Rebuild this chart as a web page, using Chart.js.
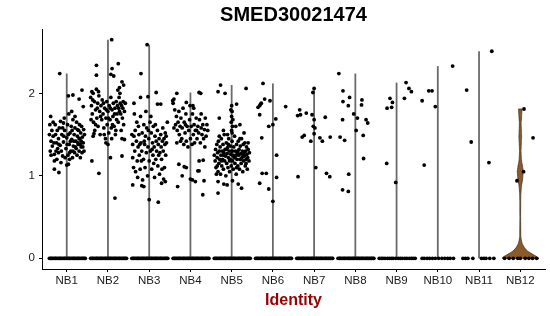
<!DOCTYPE html>
<html>
<head>
<meta charset="utf-8">
<script src="https://cdn.jsdelivr.net/npm/chart.js@4.4.1/dist/chart.umd.min.js"></script>
<style>
  html, body { margin: 0; padding: 0; background: #fff; }
</style>
</head>
<body>
<canvas id="vlnChart" width="550" height="316"></canvas>
<script>
// ---- data ----
const cats = ['NB1', 'NB2', 'NB3', 'NB4', 'NB5', 'NB6', 'NB7', 'NB8', 'NB9', 'NB10', 'NB11', 'NB12'];
const yTicks = [0, 1, 2];
const chartTitle = 'SMED30021474';

// top of each violin (max expression per cluster)
const violinTop = [2.24, 2.65, 2.59, 2.01, 2.10, 2.12, 2.06, 2.24, 2.13, 2.33, 2.51, 1.81];

// NB12 violin outline: expression level -> half width (in cluster units)
const nb12Levels = [0, 0.02, 0.04, 0.06, 0.08, 0.10, 0.13, 0.16, 0.20, 0.25, 0.30, 0.50, 0.70, 0.80, 0.87, 0.95, 1.05, 1.12, 1.20, 1.30, 1.40, 1.48, 1.58, 1.65, 1.72, 1.81];
const nb12Half = [0.443, 0.40, 0.33, 0.26, 0.20, 0.15, 0.10, 0.065, 0.035, 0.018, 0.012, 0.008, 0.011, 0.018, 0.028, 0.055, 0.075, 0.055, 0.028, 0.016, 0.026, 0.036, 0.024, 0.02, 0.032, 0.045];

// jittered non-zero cells: [offset from cluster centre, expression]
const nb1Points = [[-0.17,2.24],[0.04,1.97],[0.15,1.98],[0.37,2.04],[0.30,1.93],[0.40,1.84],[-0.19,1.04],[-0.30,1.08],[0.00,1.13],[0.04,1.14],
  [-0.42,1.5],[-0.38,1.42],[-0.40,1.3],[-0.36,1.55],[-0.33,1.48],[-0.35,1.36],[-0.30,1.26],[-0.38,1.25],[-0.28,1.62],[-0.25,1.4],
  [-0.27,1.5],[-0.22,1.33],[-0.24,1.2],[-0.30,1.18],[-0.20,1.45],[-0.18,1.58],[-0.15,1.66],[-0.20,1.28],[-0.16,1.37],[-0.12,1.5],
  [-0.10,1.24],[-0.14,1.16],[-0.08,1.41],[-0.06,1.7],[-0.05,1.55],[-0.02,1.33],[0.00,1.46],[0.02,1.62],[0.03,1.25],[0.05,1.75],
  [0.06,1.38],[0.08,1.52],[0.10,1.3],[0.11,1.6],[0.12,1.44],[0.14,1.22],[0.15,1.68],[0.16,1.36],[0.18,1.5],[0.19,1.28],
  [0.20,1.58],[0.22,1.42],[0.23,1.33],[0.24,1.65],[0.25,1.25],[0.26,1.48],[0.28,1.38],[0.29,1.55],[0.30,1.3],[0.31,1.62],
  [0.32,1.45],[0.33,1.22],[0.34,1.52],[0.35,1.35],[0.36,1.6],[0.37,1.28],[0.38,1.47],[0.40,1.4],[0.41,1.56],[0.42,1.3],
  [0.43,1.5],[-0.41,1.62],[-0.39,1.72],[-0.33,1.65],[-0.31,1.4],[-0.26,1.3],[-0.23,1.55],[-0.19,1.38],[-0.13,1.3],[-0.10,1.58],
  [-0.07,1.48],[-0.04,1.22],[0.01,1.38],[0.04,1.5],[0.07,1.2],[0.09,1.42],[0.13,1.55],[0.17,1.42],[0.21,1.35],[0.27,1.4],
  [0.30,1.45],[0.35,1.42],[0.39,1.35],[0.20,1.72],[0.12,1.78],[-0.08,1.64],[0.26,1.56],[0.33,1.38],[0.15,1.3],[0.07,1.28]];

const nb2Points = [[0.09,2.65],[-0.28,2.34],[0.25,2.36],[-0.28,2.22],[0.10,2.3],[0.07,2.23],[0.14,2.21],[0.34,2.14],[0.28,2.07],[0.24,2.04],
  [-0.39,1.18],[-0.22,1.03],[0.06,1.22],[0.34,1.24],[0.17,0.73],
  [-0.42,1.95],[-0.40,1.85],[-0.38,1.75],[-0.36,2.0],[-0.35,1.65],[-0.33,1.9],[-0.32,1.55],[-0.30,1.8],[-0.28,2.05],[-0.27,1.7],
  [-0.25,1.88],[-0.24,1.6],[-0.22,1.97],[-0.20,1.78],[-0.19,1.5],[-0.17,1.85],[-0.15,1.68],[-0.14,1.92],[-0.12,1.75],[-0.10,1.58],
  [-0.08,1.82],[-0.06,1.45],[-0.05,1.7],[-0.03,1.9],[-0.02,1.62],[0.00,1.78],[0.02,1.52],[0.03,1.85],[0.05,1.68],[0.07,1.95],
  [0.08,1.58],[0.10,1.8],[0.12,1.72],[0.13,1.88],[0.15,1.6],[0.17,1.82],[0.18,1.5],[0.20,1.9],[0.22,1.75],[0.23,1.85],
  [0.25,1.65],[0.27,1.95],[0.28,1.78],[0.30,1.88],[0.32,1.55],[0.33,1.85],[0.35,1.7],[0.37,1.9],[0.38,1.62],[0.40,1.78],
  [-0.41,1.68],[-0.37,1.92],[-0.30,1.62],[-0.26,1.82],[-0.18,1.72],[-0.11,1.88],[-0.04,1.8],[0.01,1.7],[0.06,1.82],[0.11,1.62],
  [0.16,1.75],[0.21,1.68],[0.26,1.82],[0.31,1.75],[0.36,1.82],[0.34,1.45],[0.40,1.44],[-0.34,1.51],[-0.36,1.48],[-0.05,1.4],
  [0.00,1.38],[-0.09,1.5],[0.09,1.45],[0.19,1.55],[-0.39,2.02],[-0.23,2.02],[0.29,2.0],[0.38,2.1],[0.42,1.88]];

const nb3Points = [[-0.05,2.59],[-0.20,2.24],[-0.21,1.95],[-0.03,1.96],[0.17,2.01],[0.20,1.87],[0.28,1.87],[-0.37,1.88],[-0.40,0.89],[-0.18,0.88],
  [0.00,0.71],[0.22,0.68],[0.39,0.93],[0.30,0.91],[0.35,0.96],[-0.13,0.87],
  [-0.42,1.5],[-0.40,1.38],[-0.38,1.1],[-0.40,1.22],[-0.36,1.75],[-0.35,1.3],[-0.34,1.55],[-0.33,1.05],[-0.31,1.42],[-0.30,1.65],
  [-0.29,1.18],[-0.28,0.98],[-0.27,1.35],[-0.25,1.5],[-0.24,1.25],[-0.22,1.08],[-0.21,1.72],[-0.20,1.4],[-0.18,1.3],[-0.17,1.52],
  [-0.16,0.95],[-0.14,1.2],[-0.13,1.62],[-0.11,1.38],[-0.10,1.1],[-0.09,1.48],[-0.07,1.28],[-0.06,1.58],[-0.04,1.0],[-0.03,1.35],
  [-0.01,1.45],[0.00,1.18],[0.02,1.65],[0.03,1.3],[0.05,1.52],[0.06,1.08],[0.08,1.4],[0.09,1.25],[0.10,1.6],[0.12,1.35],
  [0.13,0.98],[0.14,1.48],[0.16,1.2],[0.17,1.42],[0.18,1.3],[0.20,1.55],[0.21,1.12],[0.22,1.38],[0.24,1.45],[0.25,1.02],
  [0.26,1.28],[0.28,1.5],[0.29,1.35],[0.30,1.2],[0.32,1.42],[0.33,1.58],[0.34,1.3],[0.36,1.45],[0.37,1.1],[0.38,1.38],
  [0.40,1.25],[0.41,1.48],[0.42,1.4],[0.44,1.65],[-0.37,1.48],[-0.26,1.6],[-0.19,1.18],[-0.12,1.42],[-0.02,1.55],[0.07,1.32],
  [0.15,1.62],[0.23,1.25],[0.31,1.08],[0.39,1.52],[0.04,1.72],[-0.08,1.78],[0.11,1.15],[-0.23,1.38]];

const nb4Points = [[-0.33,2.0],[0.21,2.01],[-0.43,1.91],[-0.40,1.93],[-0.10,1.89],[0.06,1.85],[0.25,2.0],[-0.28,1.14],[-0.15,1.11],[-0.10,1.1],
  [0.21,1.18],[0.31,1.19],[-0.20,1.0],[0.00,0.96],[0.12,0.93],[0.18,1.06],[0.21,1.06],[-0.31,0.87],[0.30,0.77],[0.33,0.94],[0.05,0.95],
  [-0.42,1.88],[-0.38,1.8],[-0.36,1.62],[-0.34,1.72],[-0.32,1.55],[-0.30,1.65],[-0.28,1.78],[-0.27,1.5],[-0.25,1.6],[-0.23,1.7],
  [-0.21,1.45],[-0.20,1.58],[-0.18,1.82],[-0.16,1.38],[-0.15,1.65],[-0.13,1.52],[-0.11,1.75],[-0.10,1.42],[-0.08,1.6],[-0.06,1.35],
  [-0.04,1.55],[-0.02,1.68],[0.00,1.45],[0.02,1.6],[0.04,1.38],[0.05,1.75],[0.07,1.5],[0.09,1.62],[0.10,1.4],[0.12,1.55],
  [0.14,1.7],[0.16,1.45],[0.18,1.6],[0.20,1.52],[0.22,1.68],[0.24,1.4],[0.26,1.58],[0.28,1.5],[0.30,1.62],[0.32,1.45],
  [0.34,1.56],[0.36,1.7],[0.38,1.48],[0.40,1.62],[0.42,1.55],[-0.40,1.58],[-0.24,1.42],[-0.12,1.62],[0.08,1.82],[0.15,1.55],
  [0.26,1.75],[0.35,1.35],[-0.01,1.85],[-0.33,1.4]];

const nb5Points = [[-0.27,2.1],[-0.33,2.02],[-0.16,2.0],[0.35,2.06],[0.12,1.87],[-0.30,1.7],[-0.33,0.93],[-0.19,0.9],[-0.11,0.89],[0.02,0.94],
  [0.16,0.9],[0.24,0.85],[-0.33,0.79],[-0.20,1.55],[0.10,1.6],[0.20,1.62],[-0.10,1.5],[0.30,1.52],
  [0.00,1.85],[0.01,1.78],[0.00,1.72],[-0.01,1.65],[0.02,1.6],[0.00,1.55],[0.01,1.52],[-0.02,1.8],[0.03,1.68],
  [-0.42,1.25],[-0.40,1.18],[-0.39,1.32],[-0.38,1.1],[-0.36,1.38],[-0.35,1.22],[-0.34,1.28],[-0.33,1.05],[-0.32,1.42],[-0.31,1.15],
  [-0.30,1.3],[-0.29,1.2],[-0.28,1.35],[-0.27,1.02],[-0.26,1.25],[-0.25,1.45],[-0.24,1.12],[-0.23,1.3],[-0.22,1.2],[-0.21,1.38],
  [-0.20,1.08],[-0.19,1.28],[-0.18,1.5],[-0.17,1.18],[-0.16,1.32],[-0.15,1.24],[-0.14,1.0],[-0.13,1.4],[-0.12,1.15],[-0.11,1.27],
  [-0.10,1.34],[-0.09,1.1],[-0.08,1.22],[-0.07,1.45],[-0.06,1.3],[-0.05,1.05],[-0.04,1.2],[-0.03,1.36],[-0.02,1.26],[-0.01,1.12],
  [0.00,1.3],[0.01,1.42],[0.02,1.18],[0.03,1.25],[0.04,1.08],[0.05,1.35],[0.06,1.22],[0.07,1.48],[0.08,1.15],[0.09,1.3],
  [0.10,1.25],[0.11,1.02],[0.12,1.38],[0.13,1.2],[0.14,1.28],[0.15,1.12],[0.16,1.42],[0.17,1.25],[0.18,1.32],[0.19,1.08],
  [0.20,1.2],[0.21,1.36],[0.22,1.27],[0.23,1.15],[0.24,1.45],[0.25,1.22],[0.26,1.3],[0.27,1.05],[0.28,1.38],[0.29,1.18],
  [0.30,1.28],[0.31,1.24],[0.32,1.4],[0.33,1.12],[0.34,1.3],[0.35,1.2],[0.36,1.35],[0.37,1.26],[0.38,1.08],[0.39,1.22],
  [0.40,1.32],[0.42,1.18],[0.43,1.28],[-0.37,1.02],[-0.30,1.48],[-0.20,1.25],[-0.12,1.32],[-0.05,1.18],[0.02,1.3],[0.08,1.22],
  [0.15,1.3],[0.22,1.2],[0.28,1.25],[0.35,1.15],[0.40,1.4],[-0.25,1.18],[0.12,1.1],[-0.08,1.38],[0.20,1.45],[-0.35,1.12]];

const nb6Points = [[-0.24,2.12],[-0.32,1.85],[-0.36,1.83],[-0.28,1.88],[-0.30,1.87],[-0.20,1.93],[-0.07,1.91],[0.31,1.84],[-0.32,1.74],[0.07,1.69],
  [-0.10,1.6],[0.00,1.62],[-0.27,1.46],[0.09,1.25],[-0.26,1.03],[-0.16,1.03],[0.09,0.98],[-0.32,0.91],[-0.10,0.84],[0.00,0.69]];

const nb7Points = [[0.00,2.06],[-0.03,2.01],[-0.35,1.8],[-0.40,1.73],[-0.33,1.74],[-0.19,1.76],[-0.05,1.74],[0.00,1.68],[0.27,1.71],[-0.02,1.6],
  [0.02,1.58],[0.00,1.51],[-0.29,1.47],[-0.24,1.49],[-0.08,1.42],[0.14,1.46],[0.20,1.42],[0.39,1.47],[0.04,1.1],[-0.39,0.99],[0.30,1.03],[0.38,0.99]];

const nb8Points = [[-0.40,2.24],[-0.30,2.03],[-0.30,1.9],[-0.14,1.95],[-0.17,1.85],[-0.04,1.75],[0.05,1.7],[0.16,1.92],[0.15,1.86],[0.26,1.68],
  [0.30,1.64],[-0.31,1.68],[0.02,1.55],[-0.37,1.47],[-0.26,1.43],[0.19,1.49],[0.20,1.21],[-0.16,1.02],[-0.31,0.83],[-0.17,0.81]];

const nb9Points = [[0.23,2.13],[0.30,2.06],[0.36,2.02],[0.19,1.94],[-0.16,1.94],[-0.10,1.89],[-0.23,1.82],[-0.12,1.83],[-0.24,1.15],[-0.02,0.92]];
const nb10Points = [[0.36,2.33],[-0.38,1.91],[-0.22,2.03],[-0.14,2.03],[-0.06,1.84],[-0.33,1.13]];
const nb11Points = [[0.31,2.51],[-0.30,2.04],[-0.19,1.41],[0.24,1.16]];
const nb12Points = [[0.09,1.81],[0.31,1.46],[0.08,1.05],[-0.08,0.94]];

// cells at zero expression: offsets from cluster centre
const zeroDense = [-0.42,-0.39,-0.37,-0.34,-0.31,-0.28,-0.26,-0.23,-0.20,-0.17,-0.15,-0.12,-0.09,-0.06,-0.04,-0.01,
  0.02,0.05,0.07,0.10,0.13,0.16,0.18,0.21,0.24,0.27,0.29,0.32,0.35,0.38,0.40,0.43,0.45];
const zeroNB9 = [-0.42,-0.37,-0.33,-0.28,-0.22,-0.17,-0.12,-0.08,-0.02,0.04,0.09,0.14,0.20,0.25,0.31,0.36,0.40,0.45];
const zeroNB10 = [-0.38,-0.33,-0.26,-0.20,-0.13,-0.06,0.02,0.10,0.17,0.24,0.30,0.38];
const zeroNB11 = [-0.39,-0.33,-0.27,-0.15,0.06,0.12,0.17,0.26,0.36];
const zeroNB12 = [-0.38,-0.27,-0.17,-0.06,0.00,0.12,0.21,0.30,0.40];

const jitterSets = [nb1Points, nb2Points, nb3Points, nb4Points, nb5Points, nb6Points, nb7Points, nb8Points, nb9Points, nb10Points, nb11Points, nb12Points];
const zeroSets = [zeroDense, zeroDense, zeroDense, zeroDense, zeroDense, zeroDense, zeroDense, zeroDense, zeroNB9, zeroNB10, zeroNB11, zeroNB12];

// ---- build datasets ----
const cellPoints = [];
cats.forEach((c, i) => {
    zeroSets[i].forEach(dx => cellPoints.push({ x: i + 1 + dx, y: 0 }));
    jitterSets[i].forEach(p => cellPoints.push({ x: i + 1 + p[0], y: p[1] }));
});

const datasets = [{
    label: 'cells',
    data: cellPoints,
    backgroundColor: '#000',
    borderWidth: 0,
    pointRadius: 1.9,
    order: 0,
}];

// thin violins NB1..NB11
for (let i = 0; i < 11; i++) {
    datasets.push({
        label: cats[i],
        data: [{ x: i + 1, y: 0 }, { x: i + 1, y: violinTop[i] }],
        showLine: true,
        borderColor: '#6a6a6a',
        borderWidth: 1.8,
        pointRadius: 0,
        order: 1,
    });
}

// NB12 violin outline: left side upward, right side back down
const nb12Outline = [];
nb12Levels.forEach((lv, k) => nb12Outline.push({ x: 12 - nb12Half[k], y: lv }));
for (let k = nb12Levels.length - 1; k >= 0; k--) nb12Outline.push({ x: 12 + nb12Half[k], y: nb12Levels[k] });
nb12Outline.push(nb12Outline[0]);

datasets.push({
    label: 'NB12',
    data: nb12Outline,
    showLine: true,
    fill: 'shape',
    backgroundColor: '#8B5A2B',
    borderColor: '#3b2a1a',
    borderWidth: 0.7,
    pointRadius: 0,
    cubicInterpolationMode: 'monotone',
    order: 1,
});

// title centred over the plot panel, like ggplot does
const panelTitle = {
    id: 'panelTitle',
    afterDraw(chart) {
        const c = chart.ctx, a = chart.chartArea;
        c.save();
        c.font = 'bold 20px "Liberation Sans", Arial, sans-serif';
        c.fillStyle = '#000';
        c.textAlign = 'center';
        c.textBaseline = 'middle';
        c.fillText(chartTitle, (a.left + a.right) / 2, 15);
        c.restore();
    }
};

const ctx = document.getElementById('vlnChart').getContext('2d');

const vlnChart = new Chart(ctx, {
    type: 'scatter',
    data: { datasets: datasets },
    plugins: [panelTitle],
    options: {
        responsive: false,
        animation: false,
        layout: { padding: { left: 0, right: 5, top: 29, bottom: 0 } },
        plugins: {
            legend: { display: false },
            tooltip: { enabled: false },
        },
        scales: {
            x: {
                type: 'linear',
                min: 0.4,
                max: 12.6,
                afterBuildTicks: s => { s.ticks = cats.map((c, i) => ({ value: i + 1 })); },
                afterFit: s => { s.height = 47; },
                ticks: {
                    autoSkip: false,
                    maxRotation: 0,
                    padding: 2,
                    color: '#1a1a1a',
                    font: { family: 'Liberation Sans, Arial, sans-serif', size: 11.5 },
                    callback: v => cats[Math.round(v) - 1],
                },
                grid: { drawOnChartArea: false, tickLength: 3, color: '#000' },
                border: { display: true, color: '#000', width: 1 },
                title: {
                    display: true,
                    text: 'Identity',
                    color: '#990000',
                    font: { family: 'Liberation Sans, Arial, sans-serif', size: 16, weight: 'bold' },
                    padding: { top: 6, bottom: 6 },
                },
            },
            y: {
                type: 'linear',
                min: -0.13,
                max: 2.78,
                afterBuildTicks: s => { s.ticks = yTicks.map(v => ({ value: v })); },
                afterFit: s => { s.width = 42; },
                ticks: {
                    padding: 4,
                    color: '#1a1a1a',
                    font: { family: 'Liberation Sans, Arial, sans-serif', size: 11.5 },
                },
                grid: { drawOnChartArea: false, tickLength: 3, color: '#000' },
                border: { display: true, color: '#000', width: 1 },
            },
        },
    },
});
</script>
</body>
</html>
